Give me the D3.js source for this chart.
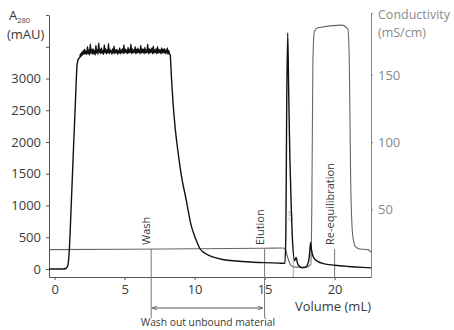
<!DOCTYPE html>
<html>
<head>
<meta charset="utf-8">
<script src="https://cdn.jsdelivr.net/npm/d3@7"></script>
<style>
  body { margin: 0; background: #fff; }
  svg { display: block; }
  text { font-family: 'Open Sans', sans-serif; }
</style>
</head>
<body>
<svg id="chart"></svg>
<script>
// A280 trace: loading ramp, noisy plateau, wash-out and elution part
const riseVol = [-0.4, 0.6, 0.8, 0.95, 1.05, 1.15, 1.35, 1.5, 1.6, 1.7];
const riseA280 = [0, 0, 8, 60, 300, 800, 1900, 2700, 3200, 3310];

const plateauStart = 1.8;
const plateauStep = 0.05;
const plateauA280 = [
  3330, 3390, 3350, 3420, 3370, 3440, 3380, 3460, 3390, 3430,
  3380, 3500, 3390, 3450, 3370, 3540, 3400, 3460, 3380, 3470,
  3390, 3440, 3370, 3520, 3400, 3450, 3380, 3560, 3410, 3460,
  3390, 3480, 3400, 3440, 3380, 3530, 3410, 3470, 3390, 3450,
  3400, 3550, 3390, 3460, 3410, 3440, 3380, 3470, 3400, 3510,
  3390, 3450, 3410, 3460, 3380, 3440, 3400, 3480, 3390, 3450,
  3410, 3470, 3390, 3530, 3400, 3460, 3410, 3450, 3390, 3490,
  3400, 3460, 3410, 3540, 3390, 3470, 3400, 3450, 3410, 3500,
  3390, 3460, 3400, 3480, 3410, 3450, 3390, 3520, 3400, 3470,
  3410, 3460, 3390, 3490, 3400, 3450, 3410, 3540, 3390, 3470,
  3400, 3460, 3410, 3480, 3390, 3510, 3400, 3450, 3410, 3470,
  3390, 3500, 3400, 3460, 3410, 3450, 3390, 3480, 3400, 3460,
  3410, 3470, 3390, 3450, 3400, 3480, 3380, 3440, 3390
];

const tailVol = [8.25, 8.35, 8.45, 8.6, 8.8, 9.05, 9.4, 9.75, 10.1, 10.4, 10.8, 11.3, 12, 13, 14, 15, 16, 16.45,
  16.52, 16.58, 16.65, 16.72, 16.8, 16.9, 17.0, 17.15, 17.25, 17.35, 17.5, 17.7, 17.9, 18.05, 18.2, 18.28,
  18.35, 18.5, 18.8, 19.2, 20, 21, 22, 22.6];
const tailA280 = [3380, 3000, 2650, 2250, 1870, 1480, 1090, 690, 460, 315, 240, 190, 150, 125, 110, 100, 92, 88,
  600, 2600, 3716, 2800, 1800, 1000, 420, 130, 180, 90, 40, 18, 25, 60, 200, 420,
  300, 180, 120, 85, 60, 40, 25, 18];

// Conductivity trace (mS/cm)
const condVol = [-0.4, 5, 10, 15, 16.3, 16.5, 16.6, 16.75, 16.9, 17.2, 18.0, 18.3, 18.38, 18.45, 18.55, 18.8,
  20.5, 20.95, 21.05, 21.15, 21.3, 21.5, 21.8, 22.4, 22.6];
const condVal = [20, 20.3, 20.6, 21, 21.2, 20, 16, 11, 8, 7, 7, 9, 60, 160, 182, 185,
  187, 184, 160, 70, 30, 22, 20.5, 20, 18];

const xTicks = [0, 5, 10, 15, 20];
const leftTicks = [0, 500, 1000, 1500, 2000, 2500, 3000, 3500, 4000];
const rightTicks = [50, 100, 150, 196];

const markerNames = ['Wash', 'Elution', 'Re-equilibration'];
const markerVol = [6.9, 15, 20];
const cipVol = 17.05;

const W = 454, H = 330;
const svg = d3.select('#chart').attr('width', W).attr('height', H);

const x = d3.scaleLinear().domain([-0.4, 22.6]).range([49, 371]);
const yL = d3.scaleLinear().domain([-126, 4000]).range([277, 15]);
const yR = d3.scaleLinear().domain([0, 196]).range([276.5, 13]);

// assemble A280 points
const a280 = [];
riseVol.forEach((v, i) => a280.push([v, riseA280[i]]));
plateauA280.forEach((v, i) => a280.push([plateauStart + i * plateauStep, v]));
tailVol.forEach((v, i) => a280.push([v, tailA280[i]]));

const cond = condVol.map((v, i) => [v, condVal[i]]);

// axes
const xAxis = svg.append('g')
  .attr('transform', `translate(0,277)`)
  .call(d3.axisBottom(x).tickValues(xTicks).tickSize(3).tickSizeOuter(0).tickPadding(5));
xAxis.selectAll('text').attr('font-size', 13).attr('fill', '#3a3a3a');

const leftAxis = svg.append('g')
  .attr('transform', `translate(49,0)`)
  .call(d3.axisLeft(yL).tickValues(leftTicks).tickSize(3).tickSizeOuter(0)
    .tickFormat(d => d <= 3000 ? d : '').tickPadding(5));
leftAxis.selectAll('text').attr('font-size', 13).attr('fill', '#3a3a3a');

const rightAxis = svg.append('g')
  .attr('transform', `translate(371,0)`)
  .call(d3.axisRight(yR).tickValues(rightTicks).tickSize(2).tickSizeOuter(0)
    .tickFormat(d => d <= 150 ? d : '').tickPadding(5));
rightAxis.selectAll('text').attr('font-size', 13).attr('fill', '#8a8a8a');
rightAxis.selectAll('path, line').attr('stroke', '#888');
xAxis.selectAll('path, line').attr('stroke', '#555');
leftAxis.selectAll('path, line').attr('stroke', '#555');

// axis titles
const tl = svg.append('text').attr('x', 9).attr('y', 20).attr('font-size', 13).attr('fill', '#3a3a3a');
tl.append('tspan').text('A');
tl.append('tspan').attr('font-size', 7.5).attr('dy', 3).text('280');
svg.append('text').attr('x', 7).attr('y', 39).attr('font-size', 13).attr('fill', '#3a3a3a').text('(mAU)');
svg.append('text').attr('x', 378).attr('y', 19).attr('font-size', 12.5).attr('fill', '#8a8a8a').text('Conductivity');
svg.append('text').attr('x', 378).attr('y', 37).attr('font-size', 12.5).attr('fill', '#8a8a8a').text('(mS/cm)');
svg.append('text').attr('x', 371).attr('y', 311).attr('text-anchor', 'end')
  .attr('font-size', 13).attr('fill', '#3a3a3a').text('Volume (mL)');

// marker lines
const markerBottom = [318, 318, 277];
markerVol.forEach((v, i) => {
  svg.append('line')
    .attr('x1', x(v)).attr('x2', x(v))
    .attr('y1', 249).attr('y2', markerBottom[i])
    .attr('stroke', '#777').attr('stroke-width', 1);
  svg.append('text')
    .attr('transform', `translate(${x(v) - 1},245) rotate(-90)`)
    .attr('font-size', 11).attr('fill', '#3a3a3a')
    .text(markerNames[i]);
});
svg.append('line')
  .attr('x1', x(cipVol)).attr('x2', x(cipVol))
  .attr('y1', 258).attr('y2', 277)
  .attr('stroke', '#aaa').attr('stroke-width', 1);
svg.append('text')
  .attr('transform', `translate(${x(cipVol) - 0.5},221) rotate(-90)`)
  .attr('font-size', 7).attr('fill', '#bbb').text('CIP');

// wash-out arrow
const defs = svg.append('defs');
defs.append('marker').attr('id', 'arr').attr('viewBox', '0 0 10 10')
  .attr('refX', 10).attr('refY', 5).attr('markerWidth', 5).attr('markerHeight', 5)
  .attr('orient', 'auto-start-reverse')
  .append('path').attr('d', 'M0,1 L10,5 L0,9').attr('fill', 'none').attr('stroke', '#555').attr('stroke-width', 1.6);
svg.append('line')
  .attr('x1', x(markerVol[0]) + 1).attr('x2', x(markerVol[1]) - 2)
  .attr('y1', 308).attr('y2', 308)
  .attr('stroke', '#555').attr('stroke-width', 1)
  .attr('marker-start', 'url(#arr)').attr('marker-end', 'url(#arr)');
svg.append('text').attr('x', (x(markerVol[0]) + x(markerVol[1])) / 2).attr('y', 326)
  .attr('text-anchor', 'middle').attr('font-size', 10.3).attr('fill', '#3a3a3a')
  .text('Wash out unbound material');

// traces
const condLine = d3.line().x(d => x(d[0])).y(d => yR(d[1])).curve(d3.curveMonotoneX);
svg.append('path').datum(cond)
  .attr('d', condLine).attr('fill', 'none').attr('stroke', '#666').attr('stroke-width', 1.1);

const a280Line = d3.line().x(d => x(d[0])).y(d => yL(d[1])).curve(d3.curveMonotoneX);
svg.append('path').datum(a280)
  .attr('d', a280Line).attr('fill', 'none').attr('stroke', '#111').attr('stroke-width', 1.4);
</script>
</body>
</html>
